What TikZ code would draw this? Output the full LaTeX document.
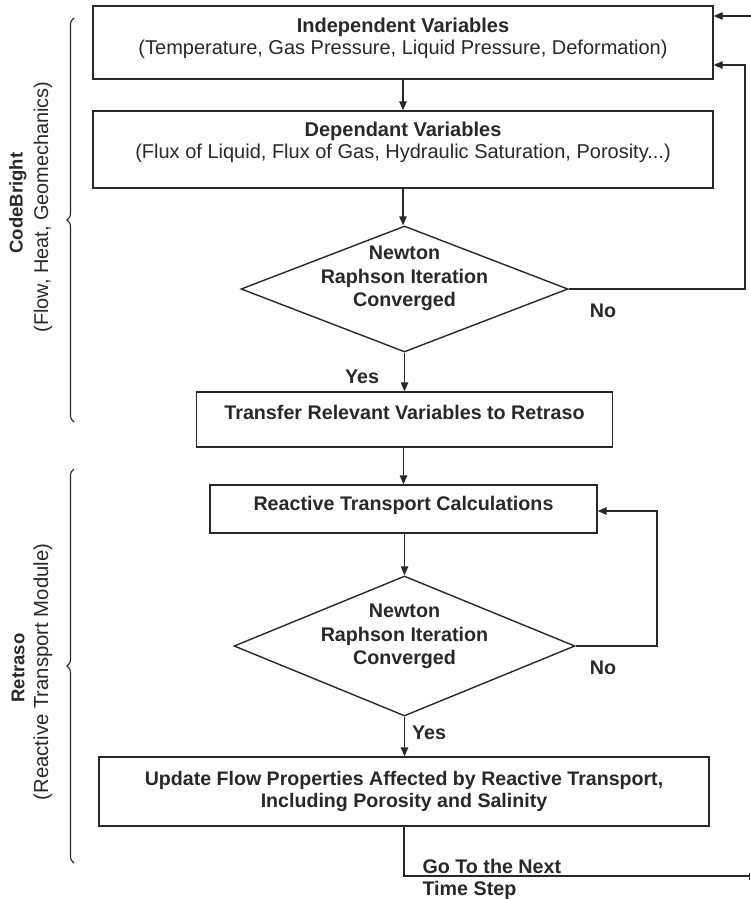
\documentclass[tikz,border=0pt]{standalone}
\usepackage{fontspec}
\setmainfont{Liberation Sans}
\usetikzlibrary{shapes.geometric,arrows.meta,decorations.pathreplacing}
\definecolor{ink}{RGB}{40,40,40}
\begin{document}
\begin{tikzpicture}[x=1pt,y=-1pt,
  every node/.style={text=ink,font=\fontsize{20}{22.5}\selectfont},
  box/.style={draw=ink,line width=1.4pt,rectangle,inner sep=0pt},
  dec/.style={draw=ink,line width=1.4pt,diamond,inner sep=0pt},
  txt/.style={align=center,inner sep=0pt},
  btxt/.style={align=center,inner sep=0pt,font=\bfseries\fontsize{19.7}{23.5}\selectfont},
  conn/.style={draw=ink,line width=1.4pt,-{Triangle[length=9pt,width=7.5pt]}},
  plain/.style={draw=ink,line width=1.4pt},
  lbl/.style={font=\bfseries\fontsize{19.7}{22}\selectfont},
  brc/.style={draw=ink,line width=1.1pt,decorate,decoration={brace,amplitude=7pt}}
]
\useasboundingbox (0,0) rectangle (751,899);
\node[box,minimum width=620pt,minimum height=73pt] (b1) at (403,42.5) {};
\node[txt] (b1t) at (403,38.5)
  {\textbf{Independent Variables}\\(Temperature, Gas Pressure, Liquid Pressure, Deformation)};
\node[box,minimum width=620pt,minimum height=77pt] (b2) at (403,149.5) {};
\node[txt] (b2t) at (403,142.5)
  {\textbf{Dependant Variables}\\(Flux of Liquid, Flux of Gas, Hydraulic Saturation, Porosity...)};
\node[dec,minimum width=327pt,minimum height=126pt] (d1) at (404.5,289) {};
\node[btxt] (d1t) at (404.5,278.5) {Newton\\Raphson Iteration\\Converged};
\node[box,minimum width=416pt,minimum height=55pt] (b3) at (404.5,419.5) {};
\node[btxt] (b3t) at (404.5,412) {Transfer Relevant Variables to Retraso};
\node[box,minimum width=387pt,minimum height=48pt] (b4) at (403.5,509) {};
\node[btxt] (b4t) at (403.5,505) {Reactive Transport Calculations};
\node[dec,minimum width=341pt,minimum height=140pt] (d2) at (404.5,646) {};
\node[btxt] (d2t) at (404.5,636.5) {Newton\\Raphson Iteration\\Converged};
\node[box,minimum width=610pt,minimum height=69pt] (b5) at (404,791.5) {};
\node[btxt,font=\bfseries\fontsize{19.6}{21.5}\selectfont] (b5t) at (404,791.5)
  {Update Flow Properties Affected by Reactive Transport,\\Including Porosity and Salinity};

\coordinate (in1) at (751,16);
\coordinate (r1) at (745,289);
\coordinate (r2) at (657,646);
\coordinate (t1) at (404,876);
\coordinate (t2) at (750,876);

\draw[conn] (b1.south -| 403,0) -- (b2.north -| 403,0);
\draw[conn] (b2.south -| 403,0) -- (d1.north -| 403,0);
\draw[conn] (d1.south) -- (b3.north -| 404.5,0);
\draw[conn] (b3.south -| 403.5,0) -- (b4.north -| 403.5,0);
\draw[conn] (b4.south -| 404.5,0) -- (d2.north);
\draw[conn] (d2.south) -- (b5.north -| 404.5,0);
\draw[conn] (d1.east) -- (r1) -- (r1 |- 0,65) -- (b1.east |- 0,65);
\draw[conn] (in1) -- (b1.east |- in1);
\draw[conn] (d2.east) -- (r2) -- (r2 |- 0,511) -- (b4.east |- 0,511);
\draw[plain,-{Bar[width=7pt]}] (b5.south -| t1) -- (t1) -- (t2);

\node[lbl] (no1) at (603,311) {No};
\node[lbl] (no2) at (603,668) {No};
\node[lbl] (yes1) at (362,377) {Yes};
\node[lbl] (yes2) at (429,733) {Yes};
\node[lbl,anchor=west] (go1) at (419,866) {Go To the Next};
\node[lbl,anchor=west] (go2) at (419,890) {Time Step};

\draw[brc] (74,422) -- (74,18);
\draw[brc] (74,863) -- (74,469);
\node[rotate=90,font=\bfseries\fontsize{18.5}{22}\selectfont] (cb) at (18,203) {CodeBright};
\node[rotate=90,font=\fontsize{19.9}{22}\selectfont] (cbs) at (43,207) {(Flow, Heat, Geomechanics)};
\node[rotate=90,font=\bfseries\fontsize{18.5}{22}\selectfont] (rt) at (18,668) {Retraso};
\node[rotate=90,font=\fontsize{20.3}{22}\selectfont] (rts) at (43,672) {(Reactive Transport Module)};
\end{tikzpicture}
\end{document}
